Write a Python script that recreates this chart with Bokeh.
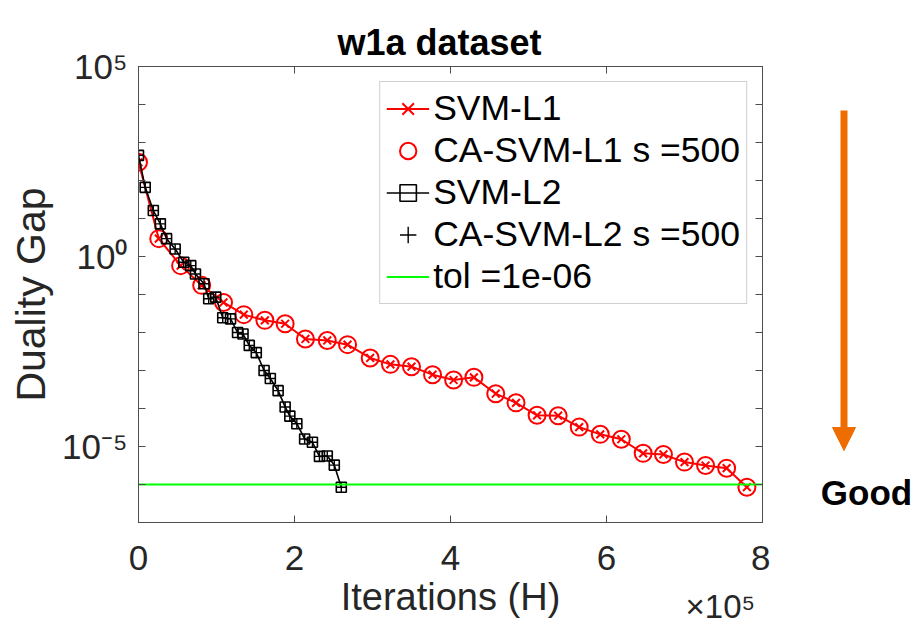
import math
from bokeh.plotting import figure
from bokeh.layouts import row
from bokeh.models import FixedTicker, LinearAxis, LogAxis, Legend, LegendItem, Range1d
from bokeh.core.properties import value
from bokeh.embed import file_html
from bokeh.resources import INLINE

# ---------------- data (iterations in units of 1e5) ----------------
svm_l1_iter = [0.00, 0.26, 0.54, 0.81, 1.09, 1.35, 1.62, 1.88, 2.14, 2.42,
               2.68, 2.97, 3.23, 3.50, 3.77, 4.04, 4.30, 4.58, 4.84, 5.11,
               5.38, 5.65, 5.92, 6.19, 6.47, 6.73, 7.00, 7.27, 7.54, 7.80]
svm_l1_gap = [302, 2.95, 0.575, 0.174, 0.0617, 0.0295, 0.0209, 0.0170, 0.00676, 0.00617,
              0.00479, 0.00214, 0.00145, 0.00126, 7.76e-4, 5.62e-4, 6.61e-4, 2.45e-4, 1.41e-4, 6.61e-5,
              6.46e-5, 3.24e-5, 2.09e-5, 1.55e-5, 6.61e-6, 6.17e-6, 3.89e-6, 3.16e-6, 2.69e-6, 8.5e-7]

ca_svm_l1_iter = svm_l1_iter
ca_svm_l1_gap = svm_l1_gap

svm_l2_iter = [0.00, 0.086, 0.19, 0.28, 0.36, 0.47, 0.58, 0.67, 0.73, 0.84,
               0.90, 0.99, 1.08, 1.18, 1.27, 1.34, 1.42, 1.51, 1.61, 1.69,
               1.79, 1.88, 1.94, 2.03, 2.13, 2.23, 2.32, 2.42, 2.51, 2.60]
svm_l2_gap = [457, 66.1, 16.2, 7.24, 2.95, 1.58, 0.708, 0.575, 0.347, 0.191,
              0.0776, 0.0851, 0.0245, 0.0229, 0.0100, 0.00912, 0.00457, 0.00295, 0.00100, 6.17e-4,
              2.95e-4, 1.10e-4, 6.31e-5, 3.98e-5, 1.58e-5, 1.29e-5, 5.50e-6, 5.62e-6, 3.24e-6, 8.5e-7]

ca_svm_l2_iter = svm_l2_iter
ca_svm_l2_gap = svm_l2_gap

tol = 1e-6
x_limits = [0, 8]
y_limits = [1e-7, 1e5]
x_tick_values = [0, 2, 4, 6, 8]
y_tick_exponents = [-7, -6, -5, -4, -3, -2, -1, 0, 1, 2, 3, 4, 5]
y_labeled_exponents = [-5, 0, 5]
x_multiplier_exp = "5"

title_text = "w1a dataset"
x_label = "Iterations (H)"
y_label = "Duality Gap"
note_text = "Good"
legend_labels = ["SVM-L1", "CA-SVM-L1 s =500", "SVM-L2", "CA-SVM-L2 s =500", "tol =1e-06"]

# ---------------- layout / style ----------------
FONT = "Liberation Sans"
TOTAL_W, TOTAL_H = 916, 627
FL, FT, FR, FB = 138, 66, 762, 522          # plot box edges (page pixels)
MAIN_W = FR + 8
SIDE_W = TOTAL_W - MAIN_W
AX = "#4d4d4d"
TXT = "#262626"
RED = "#FF0000"
GREEN = "#00FF00"
ORANGE = "#EF6C00"

SUP = {"-": "\u207b", "0": "\u2070", "1": "\u00b9", "2": "\u00b2", "3": "\u00b3", "4": "\u2074",
       "5": "\u2075", "6": "\u2076", "7": "\u2077", "8": "\u2078", "9": "\u2079"}


def sup(s):
    return "".join(SUP[c] for c in s)


p = figure(width=MAIN_W, height=TOTAL_H, y_axis_type="log",
           x_range=Range1d(*x_limits), y_range=Range1d(*y_limits),
           output_backend="svg", toolbar_location=None,
           min_border_left=FL, min_border_right=MAIN_W - FR,
           min_border_top=FT, min_border_bottom=TOTAL_H - FB)
p.xgrid.visible = False
p.ygrid.visible = False
p.outline_line_color = AX
p.outline_line_width = 1
p.background_fill_color = "white"
p.border_fill_color = "white"

p.title.text = title_text
p.title.align = "left"
p.title.offset = 199
p.title.text_font = FONT
p.title.text_font_size = "36px"
p.title.text_font_style = "bold"
p.title.text_color = "black"
p.title.standoff = 7


def style_axis(ax, ticks, show_labels):
    ax.ticker = FixedTicker(ticks=ticks)
    ax.major_tick_in = 7
    ax.major_tick_out = 0
    ax.minor_tick_line_color = None
    ax.axis_line_color = AX
    ax.major_tick_line_color = AX
    ax.major_label_text_font = FONT
    ax.major_label_text_color = TXT
    if not show_labels:
        ax.major_label_text_font_size = "1px"
        ax.major_label_text_color = None
        ax.major_label_standoff = 0


y_ticks = [10.0 ** k for k in y_tick_exponents]

xa = p.xaxis[0]
style_axis(xa, x_tick_values, True)
xa.major_label_text_font_size = "35px"
xa.major_label_standoff = 23

ya = p.yaxis[0]
style_axis(ya, y_ticks, True)
ya.major_label_text_font_size = "35px"
ya.major_label_standoff = 11
ya.major_label_overrides = {t: ("10" + sup(str(k)) if k in y_labeled_exponents else "")
                            for t, k in zip(y_ticks, y_tick_exponents)}
ya.axis_label = y_label
ya.axis_label_text_font = FONT
ya.axis_label_text_font_size = "41px"
ya.axis_label_text_font_style = "normal"
ya.axis_label_text_color = TXT
ya.axis_label_standoff = 5

# second bottom axis: carries the "x10^5" multiplier (as a tick label) and the x label
mult_pos = x_limits[1] - 0.54
mult_axis = LinearAxis(ticker=FixedTicker(ticks=[mult_pos]),
                       major_label_overrides={mult_pos: "\u00d710" + sup(x_multiplier_exp)})
mult_axis.axis_line_color = None
mult_axis.major_tick_line_color = None
mult_axis.minor_tick_line_color = None
mult_axis.major_tick_in = 0
mult_axis.major_tick_out = 0
mult_axis.major_label_text_font = FONT
mult_axis.major_label_text_font_size = "33px"
mult_axis.major_label_text_color = TXT
mult_axis.major_label_standoff = 15
mult_axis.axis_label = x_label
mult_axis.axis_label_text_font = FONT
mult_axis.axis_label_text_font_size = "38px"
mult_axis.axis_label_text_font_style = "normal"
mult_axis.axis_label_text_color = TXT
mult_axis.axis_label_standoff = -52
p.add_layout(mult_axis, "below")

top_axis = LinearAxis()
style_axis(top_axis, x_tick_values, False)
p.add_layout(top_axis, "above")
right_axis = LogAxis()
style_axis(right_axis, y_ticks, False)
p.add_layout(right_axis, "right")

# ---------------- series ----------------
r1_line = p.line(svm_l1_iter, svm_l1_gap, line_color=RED, line_width=2)
r1_mk = p.scatter(svm_l1_iter, svm_l1_gap, marker="x", size=11, line_color=RED, line_width=2)
r2_mk = p.scatter(ca_svm_l1_iter, ca_svm_l1_gap, marker="circle", size=17,
                  line_color=RED, fill_color=None, line_width=2)
r3_line = p.line(svm_l2_iter, svm_l2_gap, line_color="black", line_width=1.6)
r3_mk = p.scatter(svm_l2_iter, svm_l2_gap, marker="square", size=10,
                  line_color="black", fill_color=None, line_width=1.6)
r4_mk = p.scatter(ca_svm_l2_iter, ca_svm_l2_gap, marker="cross", size=10,
                  line_color="black", line_width=1.4)
r5_line = p.line(x_limits, [tol, tol], line_color=GREEN, line_width=2)

legend = Legend(items=[
    LegendItem(label=legend_labels[0], renderers=[r1_line, r1_mk]),
    LegendItem(label=legend_labels[1], renderers=[r2_mk]),
    LegendItem(label=legend_labels[2], renderers=[r3_line, r3_mk]),
    LegendItem(label=legend_labels[3], renderers=[r4_mk]),
    LegendItem(label=legend_labels[4], renderers=[r5_line]),
], location="top_right", margin=15)
legend.label_text_font = FONT
legend.label_text_font_size = "35.5px"
legend.label_text_color = "black"
legend.glyph_width = 43
legend.glyph_height = 41
legend.label_height = 41
legend.label_standoff = 4
legend.spacing = 1
legend.padding = 6
legend.border_line_color = "#a0a0a0"
legend.border_line_width = 1
legend.background_fill_color = "white"
legend.background_fill_alpha = 1
p.add_layout(legend)

# ---------------- side panel: "Good" arrow (coordinates = page pixels) ----------------
side = figure(width=SIDE_W, height=TOTAL_H, x_range=Range1d(MAIN_W, TOTAL_W), y_range=Range1d(FB, FT),
              output_backend="svg", toolbar_location=None,
              x_axis_location=None, y_axis_location=None,
              min_border_left=0, min_border_right=0, min_border_top=FT, min_border_bottom=TOTAL_H - FB)
side.outline_line_color = None
side.grid.visible = False
side.background_fill_color = "white"
side.border_fill_color = "white"

AR_X, AR_TOP, AR_HEAD, AR_TIP, AR_HW = 843.5, 110, 427, 450, 11.5
side.segment(x0=[AR_X], y0=[AR_TOP], x1=[AR_X], y1=[AR_HEAD + 3], line_color=ORANGE, line_width=7)
side.patch([AR_X - AR_HW, AR_X + AR_HW, AR_X], [AR_HEAD, AR_HEAD, AR_TIP],
           fill_color=ORANGE, line_color=ORANGE, line_width=1)
side.text(x=[866], y=[492], text=[note_text], text_align="center", text_baseline="middle",
          text_font=value(FONT), text_font_size="35px", text_font_style="bold", text_color="black")

layout = row(p, side)
open("out.html", "w").write(file_html(layout, INLINE))
